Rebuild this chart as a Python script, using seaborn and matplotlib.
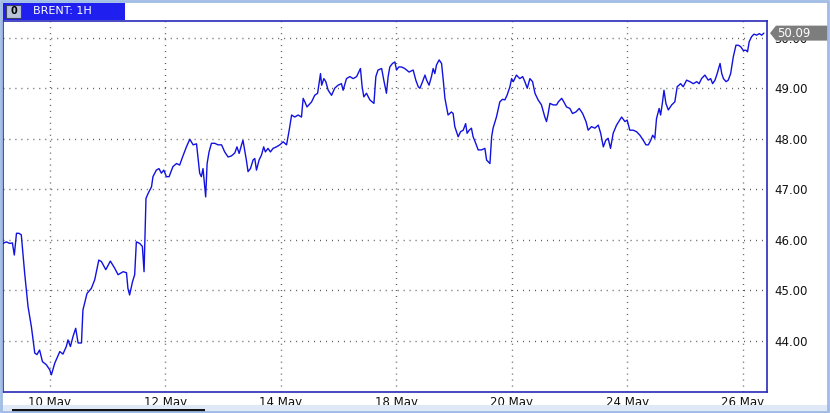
import numpy as np
import pandas as pd
import matplotlib
matplotlib.use("Agg")
import matplotlib.pyplot as plt
from matplotlib.patches import Rectangle, Polygon
import matplotlib.transforms as mtransforms
import seaborn as sns

# ---- data (trading-hour index, price) ----
hours = [-19.4, -18.0, -16.6, -15.5, -14.7, -13.8, -12.8, -11.8, -10.4, -9.0,
         -7.6, -6.2, -5.3, -4.2, -3.0, -1.4, 0.0, 0.7, 2.1, 4.2,
         5.5, 6.9, 7.6, 8.6, 9.7, 10.8, 11.8, 13.2, 13.8, 15.5,
         17.3, 18.7, 20.4, 21.5, 23.3, 25.2, 27.0, 28.4, 30.5, 31.9,
         32.5, 33.2, 34.4, 35.3, 36.0, 37.4, 38.5, 39.2, 39.6, 40.0,
         40.9, 42.3, 42.9, 44.3, 45.4, 46.4, 47.4, 48.5, 49.6, 51.2,
         52.7, 54.0, 55.2, 56.8, 58.2, 59.6, 61.0, 61.6, 62.3, 63.0,
         63.7, 64.4, 64.8, 65.4, 66.2, 67.2, 68.6, 69.9, 71.4, 72.7,
         74.1, 75.5, 76.9, 77.8, 78.7, 79.7, 80.3, 81.0, 81.7, 82.4,
         83.4, 84.5, 85.2, 85.9, 87.0, 88.0, 88.9, 89.6, 90.7, 91.7,
         92.8, 94.2, 95.6, 97.0, 98.4, 99.5, 100.5, 101.8, 103.2, 104.6,
         105.3, 106.0, 106.9, 108.8, 110.1, 111.3, 111.9, 112.5, 113.0, 113.9,
         114.7, 115.7, 117.1, 118.4, 119.8, 121.2, 121.9, 123.3, 124.7, 126.1,
         127.5, 129.1, 129.8, 130.5, 131.6, 133.0, 134.7, 135.5, 136.4, 137.9,
         138.8, 139.9, 140.6, 141.3, 142.4, 143.4, 144.1, 145.0, 146.2, 147.5,
         149.3, 151.0, 152.1, 153.1, 153.8, 154.9, 155.9, 156.6, 157.6, 158.6,
         159.3, 160.0, 160.7, 161.8, 162.8, 163.5, 164.2, 165.5, 166.9, 167.6,
         168.3, 169.7, 170.7, 171.8, 172.8, 173.4, 174.3, 175.2, 175.9, 177.0,
         178.0, 179.4, 180.8, 181.5, 182.9, 183.6, 184.2, 185.6, 187.0, 188.1,
         189.1, 190.0, 191.2, 191.9, 192.6, 193.9, 195.3, 196.5, 197.4, 198.4,
         199.5, 200.6, 201.6, 202.9, 204.3, 205.7, 206.4, 207.1, 207.8, 209.2,
         210.6, 211.3, 212.7, 213.6, 214.7, 216.1, 217.2, 218.6, 220.0, 221.4,
         222.8, 223.7, 225.1, 226.5, 227.9, 228.9, 230.0, 231.0, 232.0, 233.0,
         234.1, 235.5, 237.6, 239.0, 239.9, 241.0, 242.4, 243.8, 245.2, 246.6,
         247.7, 248.7, 249.7, 250.5, 251.4, 252.1, 253.2, 253.8, 254.6, 255.2,
         256.0, 257.0, 258.4, 259.7, 260.7, 262.1, 263.2, 264.6, 266.0, 267.4,
         268.8, 269.8, 270.8, 272.2, 273.6, 274.6, 275.4, 276.4, 277.3, 278.5,
         279.2, 279.9, 281.0, 281.9, 282.9, 284.0, 285.1, 286.1, 287.1, 288.1,
         289.3, 289.9, 290.6, 291.6, 292.6, 293.7, 294.8, 295.8, 296.7]

price = [45.93, 45.96, 45.93, 45.94, 45.70, 46.13, 46.13, 46.10, 45.34, 44.68,
         44.28, 43.76, 43.73, 43.82, 43.59, 43.53, 43.43, 43.33, 43.56, 43.79,
         43.74, 43.89, 44.02, 43.89, 44.09, 44.25, 43.96, 43.96, 44.61, 44.94,
         45.04, 45.21, 45.60, 45.57, 45.41, 45.58, 45.44, 45.31, 45.37, 45.35,
         45.04, 44.91, 45.17, 45.31, 45.96, 45.93, 45.87, 45.37, 46.10, 46.82,
         46.92, 47.05, 47.25, 47.38, 47.41, 47.32, 47.38, 47.25, 47.25, 47.45,
         47.51, 47.48, 47.64, 47.84, 47.99, 47.88, 47.90, 47.64, 47.32, 47.25,
         47.41, 47.05, 46.85, 47.51, 47.74, 47.91, 47.91, 47.88, 47.88, 47.74,
         47.64, 47.66, 47.72, 47.84, 47.71, 47.88, 47.97, 47.78, 47.58, 47.35,
         47.41, 47.58, 47.61, 47.38, 47.58, 47.68, 47.84, 47.74, 47.81, 47.74,
         47.81, 47.84, 47.88, 47.94, 47.88, 48.17, 48.47, 48.43, 48.47, 48.43,
         48.80, 48.73, 48.63, 48.73, 48.86, 48.90, 49.09, 49.29, 49.06, 49.19,
         49.13, 48.96, 48.86, 49.00, 49.06, 49.09, 48.96, 49.19, 49.23, 49.19,
         49.23, 49.39, 49.03, 48.83, 48.90, 48.77, 48.70, 49.23, 49.36, 49.39,
         49.16, 48.90, 49.23, 49.42, 49.49, 49.52, 49.36, 49.42, 49.42, 49.39,
         49.32, 49.36, 49.16, 49.03, 49.00, 49.13, 49.26, 49.16, 49.06, 49.23,
         49.39, 49.29, 49.46, 49.56, 49.49, 49.16, 48.80, 48.47, 48.53, 48.50,
         48.24, 48.04, 48.14, 48.17, 48.30, 48.11, 48.17, 48.21, 48.04, 47.91,
         47.78, 47.78, 47.81, 47.58, 47.51, 48.04, 48.21, 48.43, 48.73, 48.78,
         48.77, 48.86, 49.03, 49.19, 49.13, 49.26, 49.19, 49.23, 49.13, 49.00,
         49.19, 49.13, 48.90, 48.77, 48.67, 48.43, 48.34, 48.50, 48.70, 48.67,
         48.67, 48.73, 48.80, 48.73, 48.63, 48.60, 48.50, 48.53, 48.60, 48.50,
         48.34, 48.17, 48.24, 48.21, 48.27, 48.11, 47.84, 47.97, 48.01, 47.81,
         48.11, 48.27, 48.43, 48.34, 48.37, 48.17, 48.17, 48.14, 48.07, 47.97,
         47.88, 47.88, 47.97, 48.07, 48.01, 48.40, 48.60, 48.47, 48.73, 48.96,
         48.70, 48.57, 48.67, 48.73, 49.03, 49.09, 49.03, 49.16, 49.13, 49.09,
         49.13, 49.09, 49.19, 49.26, 49.16, 49.19, 49.09, 49.16, 49.29, 49.49,
         49.29, 49.19, 49.13, 49.16, 49.29, 49.62, 49.85, 49.85, 49.82, 49.75,
         49.75, 49.72, 49.92, 50.02, 50.07, 50.05, 50.08, 50.05, 50.09]

tick_hours = [0, 48, 96, 144, 192, 240, 288]
tick_labels = ["10 May", "12 May", "14 May", "18 May", "20 May", "24 May", "26 May"]
y_ticks = [44, 45, 46, 47, 48, 49, 50]
last_price = 50.09
title = "BRENT: 1H"

df = pd.DataFrame({"hour": hours, "price": price})

sns.set_style("white")
plt.rcParams["font.family"] = ["DejaVu Sans"]

W, H = 830, 413
fig = plt.figure(figsize=(W / 100, H / 100), dpi=100)
fig.patch.set_facecolor("white")

ax = fig.add_axes([3 / W, 1 - 392 / H, (767 - 3) / W, (392 - 21) / H])
ax.set_facecolor("white")

sns.lineplot(data=df, x="hour", y="price", ax=ax, color="#1212e0",
             linewidth=1.0, zorder=3)

ax.set_xlim(-19.4, 298.0)
ax.set_ylim(42.99, 50.33)

dot = (0, (0.7, 3.6))
for t in tick_hours:
    ax.axvline(t, color="#555555", lw=1.0, ls=dot, zorder=1)
for yv in y_ticks:
    ax.axhline(yv, color="#555555", lw=1.0, ls=dot, zorder=1)

ax.set_xticks(tick_hours)
ax.set_xticklabels(tick_labels)
ax.set_yticks(y_ticks)
ax.set_yticklabels([f"{v:.2f}" for v in y_ticks])
ax.yaxis.tick_right()
ax.tick_params(axis="both", length=0, labelsize=8.5, colors="#111111")
ax.tick_params(axis="y", pad=5)
ax.tick_params(axis="x", pad=3)
ax.set_xlabel("")
ax.set_ylabel("")

for s in ax.spines.values():
    s.set_visible(True)
    s.set_color("#2a2ab8")
    s.set_linewidth(1.2)

# last-price tag
trans = mtransforms.blended_transform_factory(ax.transAxes, ax.transData)
span = ax.get_ylim()[1] - ax.get_ylim()[0]
hh = 7.5 / 371 * span
x0 = 1.0 + 3 / 764
x1 = 1.0 + 9 / 764
x2 = 1.0 + 61 / 764
tag = Polygon([(x0, last_price), (x1, last_price + hh), (x2, last_price + hh),
               (x2, last_price - hh), (x1, last_price - hh)],
              closed=True, transform=trans, facecolor="#7d7d7d",
              edgecolor="none", clip_on=False, zorder=10)
ax.add_patch(tag)
ax.text(1.0 + 10 / 764, last_price, f"{last_price:.2f}", transform=trans,
        ha="left", va="center", color="white", fontsize=8.5, zorder=11,
        clip_on=False)

# title bar
fig.patches.append(Rectangle((3 / W, 1 - 20 / H), 122 / W, 17 / H,
                             transform=fig.transFigure, facecolor="#1f1ff0",
                             edgecolor="none", zorder=5))
fig.patches.append(Rectangle((6 / W, 1 - 18 / H), 15 / W, 13 / H,
                             transform=fig.transFigure, facecolor="#b8c4d8",
                             edgecolor="#404060", lw=0.8, zorder=6))
fig.text(13.5 / W, 1 - 11.5 / H, "0", color="black", fontsize=7,
         fontweight="bold", ha="center", va="center", zorder=7)
fig.text(33 / W, 1 - 11.5 / H, title, color="white", fontsize=8,
         ha="left", va="center", zorder=7)

# bottom strip and scrollbar
fig.patches.append(Rectangle((0, 0), 1, 8 / H, transform=fig.transFigure,
                             facecolor="#dfe8f6", edgecolor="none", zorder=1))
fig.patches.append(Rectangle((12 / W, 0), 193 / W, 4 / H,
                             transform=fig.transFigure, facecolor="#111111",
                             edgecolor="none", zorder=2))

# outer frame
fig.patches.append(Rectangle((0.001, 0.002), 0.997, 0.995,
                             transform=fig.transFigure, facecolor="none",
                             edgecolor="#9fbbe6", lw=2.0, zorder=8))

fig.savefig("out.png", dpi=100, facecolor=fig.get_facecolor())
